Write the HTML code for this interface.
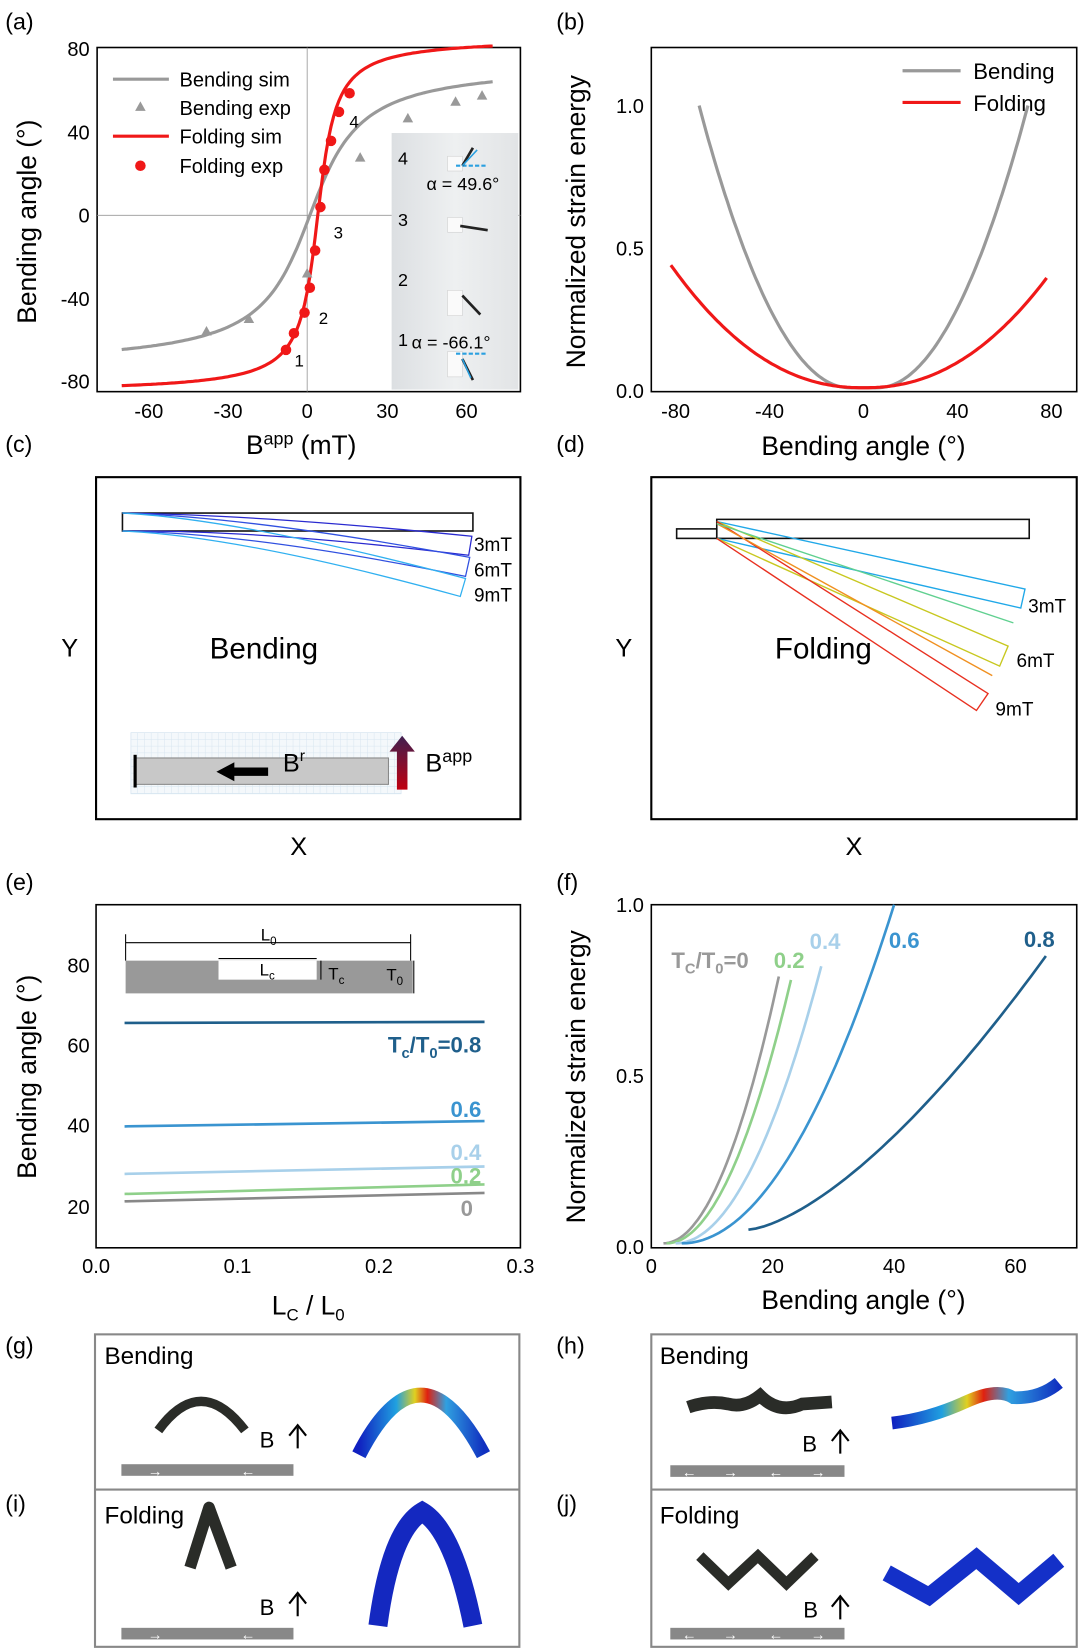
<!DOCTYPE html>
<html><head><meta charset="utf-8"><style>
html,body{margin:0;padding:0;background:#fff;}
svg{display:block;font-family:"Liberation Sans",sans-serif;}
text{font-family:"Liberation Sans",sans-serif;}
</style></head><body>
<svg id="s" width="1082" height="1650" viewBox="0 0 1025 1563" preserveAspectRatio="none" xmlns="http://www.w3.org/2000/svg">
<defs>
<linearGradient id="rb" x1="0" y1="0" x2="1" y2="0"><stop offset="0" stop-color="#1020c0"/><stop offset="0.3" stop-color="#20a0e0"/><stop offset="0.45" stop-color="#e0d020"/><stop offset="0.55" stop-color="#e02010"/><stop offset="0.7" stop-color="#30a0e0"/><stop offset="1" stop-color="#1030c0"/></linearGradient>
<linearGradient id="ba" x1="0" y1="1" x2="0" y2="0"><stop offset="0" stop-color="#c00010"/><stop offset="1" stop-color="#402050"/></linearGradient>
<linearGradient id="ins" x1="0" y1="0" x2="1" y2="0"><stop offset="0" stop-color="#dcdfe2"/><stop offset="0.5" stop-color="#eef0f1"/><stop offset="1" stop-color="#e2e4e6"/></linearGradient>
</defs>
<g font-size="22">
<text x="5" y="28">(a)</text><text x="527" y="28">(b)</text>
<text x="5" y="428">(c)</text><text x="527" y="428">(d)</text>
<text x="5" y="843">(e)</text><text x="527" y="843">(f)</text>
<text x="5" y="1282">(g)</text><text x="527" y="1282">(h)</text>
<text x="5" y="1432">(i)</text><text x="527" y="1432">(j)</text>
</g>
<!-- (a) -->
<rect x="92" y="45" width="401" height="326" fill="none" stroke="#000" stroke-width="1.5"/>
<line x1="92" y1="204" x2="493" y2="204" stroke="#999" stroke-width="0.8"/>
<line x1="291" y1="45" x2="291" y2="371" stroke="#999" stroke-width="0.8"/>
<rect x="371" y="126" width="120" height="243" fill="url(#ins)"/>
<g fill="#fafafa" stroke="#ccc" stroke-width="0.5"><rect x="424" y="148" width="14" height="14"/><rect x="424" y="206" width="14" height="14"/><rect x="424" y="275" width="14" height="24"/><rect x="424" y="333" width="14" height="24"/></g>
<g font-size="17"><text x="377" y="156">4</text><text x="377" y="214">3</text><text x="377" y="271">2</text><text x="377" y="328">1</text>
<text x="404" y="180">α = 49.6°</text><text x="390" y="330">α = -66.1°</text></g>
<line x1="432" y1="157" x2="462" y2="157" stroke="#2aa0e0" stroke-width="2" stroke-dasharray="4,2"/>
<line x1="432" y1="335" x2="462" y2="335" stroke="#2aa0e0" stroke-width="2" stroke-dasharray="4,2"/>
<path d="M438 157 L448 140 M436 214 L462 218 M438 280 L455 298 M438 340 L448 360" stroke="#222" stroke-width="2.5" fill="none"/>
<path d="M438 157 L452 142 M438 340 L446 358" stroke="#2aa0e0" stroke-width="1.5" fill="none"/>
<g font-size="19" text-anchor="middle"><text x="141" y="396">-60</text><text x="216" y="396">-30</text><text x="291" y="396">0</text><text x="367" y="396">30</text><text x="442" y="396">60</text></g>
<g font-size="19" text-anchor="end"><text x="85" y="53">80</text><text x="85" y="132">40</text><text x="85" y="211">0</text><text x="85" y="290">-40</text><text x="85" y="368">-80</text></g>
<text x="233" y="430" font-size="25">B<tspan font-size="17" dy="-9">app</tspan><tspan dy="9"> (mT)</tspan></text>
<text transform="translate(34,210) rotate(-90)" font-size="25" text-anchor="middle">Bending angle (°)</text>
<path id="ag" fill="none" stroke="#999" stroke-width="3"/>
<path id="ar" fill="none" stroke="#f01818" stroke-width="3"/>
<g id="apts"></g>
<g font-size="16"><text x="279" y="347">1</text><text x="302" y="307">2</text><text x="316" y="226">3</text><text x="331" y="121">4</text></g>
<line x1="107" y1="75" x2="160" y2="75" stroke="#999" stroke-width="3"/>
<polygon points="133,96 128,105 138,105" fill="#999"/>
<line x1="107" y1="129" x2="160" y2="129" stroke="#f01818" stroke-width="3"/>
<circle cx="133" cy="157" r="5" fill="#f01818"/>
<g font-size="19"><text x="170" y="82">Bending sim</text><text x="170" y="109">Bending exp</text><text x="170" y="136">Folding sim</text><text x="170" y="164">Folding exp</text></g>
<!-- (b) -->
<rect x="617" y="45" width="403" height="326" fill="none" stroke="#000" stroke-width="1.5"/>
<path id="bg" fill="none" stroke="#999" stroke-width="3"/>
<path id="br" fill="none" stroke="#f01818" stroke-width="3"/>
<line x1="855" y1="67" x2="910" y2="67" stroke="#999" stroke-width="3"/>
<line x1="855" y1="97" x2="910" y2="97" stroke="#f01818" stroke-width="3"/>
<g font-size="21"><text x="922" y="75">Bending</text><text x="922" y="105">Folding</text></g>
<g font-size="19" text-anchor="middle"><text x="640" y="396">-80</text><text x="729" y="396">-40</text><text x="818" y="396">0</text><text x="907" y="396">40</text><text x="996" y="396">80</text></g>
<g font-size="19" text-anchor="end"><text x="610" y="107">1.0</text><text x="610" y="242">0.5</text><text x="610" y="377">0.0</text></g>
<text x="818" y="431" font-size="25" text-anchor="middle">Bending angle (°)</text>
<text transform="translate(554,210) rotate(-90)" font-size="25" text-anchor="middle">Normalized strain energy</text>
<!-- (c) -->
<rect x="91" y="452" width="402" height="324" fill="none" stroke="#000" stroke-width="2"/>
<rect x="116" y="486" width="332" height="17" fill="none" stroke="#111" stroke-width="1.5"/>
<g fill="none" stroke-width="1.2">
<path d="M116 486 Q250 488 447 508 L444 526 Q250 502 116 503" stroke="#2a2ad0"/>
<path d="M116 486 Q240 490 445 528 L441 546 Q240 505 116 503" stroke="#3050e0"/>
<path d="M116 486 Q230 492 441 548 L436 565 Q230 508 116 503" stroke="#30b0f0"/>
</g>
<g font-size="18"><text x="449" y="522">3mT</text><text x="449" y="546">6mT</text><text x="449" y="570">9mT</text></g>
<text x="250" y="624" font-size="28" text-anchor="middle">Bending</text>
<text x="58" y="622" font-size="24">Y</text><text x="275" y="810" font-size="24">X</text>
<g stroke="#cde0ee" stroke-width="0.5"><rect x="124" y="694" width="256" height="58" fill="#f4f8fb"/></g>
<g id="grid" stroke="#d8e6f0" stroke-width="0.5"></g>
<rect x="128" y="718" width="240" height="25" fill="#c8c8c8" stroke="#888"/>
<line x1="128" y1="715" x2="128" y2="746" stroke="#000" stroke-width="3"/>
<polygon points="205,731 222,722 222,727 254,727 254,735 222,735 222,740" fill="#000"/>
<text x="268" y="731" font-size="24">B<tspan font-size="15" dy="-10">r</tspan></text>
<polygon points="381,697 369,712 376,712 376,748 386,748 386,712 393,712" fill="url(#ba)"/>
<text x="403" y="731" font-size="24">B<tspan font-size="17" dy="-9">app</tspan></text>
<!-- (d) -->
<rect x="617" y="452" width="403" height="324" fill="none" stroke="#000" stroke-width="2"/>
<rect x="679" y="492" width="296" height="18" fill="none" stroke="#111" stroke-width="1.5"/>
<rect x="641" y="501" width="38" height="9" fill="none" stroke="#111" stroke-width="1.5"/>
<g fill="none" stroke-width="1.3">
<path d="M679 494 L971 558 L967 576 L679 510" stroke="#20a8e8"/>
<path d="M679 494 L955 612 L947 631 L679 510" stroke="#c8c820"/>
<path d="M679 494 L936 657 L925 673 L679 510" stroke="#e83020"/>
<path d="M679 496 L940 640" stroke="#f09020"/>
<path d="M679 496 L960 590" stroke="#60d090"/>
</g>
<g font-size="18"><text x="974" y="580">3mT</text><text x="963" y="632">6mT</text><text x="943" y="678">9mT</text></g>
<text x="780" y="624" font-size="28" text-anchor="middle">Folding</text>
<text x="583" y="622" font-size="24">Y</text><text x="801" y="810" font-size="24">X</text>
<!-- (e) -->
<rect x="91" y="857" width="402" height="325" fill="none" stroke="#000" stroke-width="1.5"/>
<g font-size="19" text-anchor="middle"><text x="91" y="1206">0.0</text><text x="225" y="1206">0.1</text><text x="359" y="1206">0.2</text><text x="493" y="1206">0.3</text></g>
<g font-size="19" text-anchor="end"><text x="85" y="921">80</text><text x="85" y="997">60</text><text x="85" y="1073">40</text><text x="85" y="1150">20</text></g>
<text x="292" y="1245" font-size="25" text-anchor="middle">L<tspan font-size="16" dy="6">C</tspan><tspan dy="-6"> / L</tspan><tspan font-size="16" dy="6">0</tspan></text>
<text transform="translate(34,1020) rotate(-90)" font-size="25" text-anchor="middle">Bending angle (°)</text>
<rect x="119" y="910" width="272" height="31" fill="#999"/>
<rect x="207" y="910" width="93" height="18" fill="#fff"/>
<path d="M119 893 H389 M207 908 H300 M304 910 V928 M392 910 V941 M119 885 V910 M389 885 V910" stroke="#000" stroke-width="1" fill="none"/>
<g font-size="16"><text x="247" y="891">L<tspan font-size="11" dy="4">0</tspan></text><text x="246" y="924">L<tspan font-size="11" dy="4">c</tspan></text><text x="311" y="928">T<tspan font-size="11" dy="4">c</tspan></text><text x="366" y="929">T<tspan font-size="11" dy="4">0</tspan></text></g>
<g fill="none" stroke-width="2.5">
<line x1="118" y1="969" x2="459" y2="968" stroke="#1f5f8b"/>
<line x1="118" y1="1067" x2="459" y2="1062" stroke="#3a94d0"/>
<line x1="118" y1="1112" x2="459" y2="1105" stroke="#a8d0ea"/>
<line x1="118" y1="1131" x2="459" y2="1122" stroke="#8fd08a"/>
<line x1="118" y1="1138" x2="459" y2="1130" stroke="#888"/>
</g>
<g font-size="21" font-weight="bold" text-anchor="end">
<text x="456" y="997" fill="#1f5f8b">T<tspan font-size="14" dy="5">c</tspan><tspan dy="-5">/T</tspan><tspan font-size="14" dy="5">0</tspan><tspan dy="-5">=0.8</tspan></text>
<text x="456" y="1058" fill="#3a94d0">0.6</text><text x="456" y="1099" fill="#a8d0ea">0.4</text><text x="456" y="1121" fill="#8fd08a">0.2</text><text x="448" y="1152" fill="#999">0</text></g>
<!-- (f) -->
<rect x="617" y="857" width="403" height="325" fill="none" stroke="#000" stroke-width="1.5"/>
<g font-size="19" text-anchor="middle"><text x="617" y="1206">0</text><text x="732" y="1206">20</text><text x="847" y="1206">40</text><text x="962" y="1206">60</text></g>
<g font-size="19" text-anchor="end"><text x="610" y="864">1.0</text><text x="610" y="1026">0.5</text><text x="610" y="1188">0.0</text></g>
<text x="818" y="1240" font-size="25" text-anchor="middle">Bending angle (°)</text>
<text transform="translate(554,1020) rotate(-90)" font-size="25" text-anchor="middle">Normalized strain energy</text>
<g id="fc" fill="none" stroke-width="2.5"></g>
<g font-size="21" font-weight="bold">
<text x="636" y="917" fill="#999">T<tspan font-size="14" dy="5">C</tspan><tspan dy="-5">/T</tspan><tspan font-size="14" dy="5">0</tspan><tspan dy="-5">=0</tspan></text>
<text x="733" y="917" fill="#8fd08a">0.2</text><text x="767" y="899" fill="#a8d0ea">0.4</text><text x="842" y="898" fill="#3a94d0">0.6</text><text x="970" y="897" fill="#1f5f8b">0.8</text></g>
<!-- (g)-(j) -->
<g fill="none" stroke="#888" stroke-width="2">
<rect x="90" y="1264" width="402" height="296"/><line x1="90" y1="1411" x2="492" y2="1411"/>
<rect x="617" y="1264" width="403" height="296"/><line x1="617" y1="1411" x2="1020" y2="1411"/>
</g>
<g font-size="23"><text x="99" y="1292">Bending</text><text x="99" y="1443">Folding</text><text x="625" y="1292">Bending</text><text x="625" y="1443">Folding</text></g>
<g font-size="21"><text x="246" y="1371">B</text><text x="246" y="1530">B</text><text x="760" y="1375">B</text><text x="761" y="1532">B</text></g>
<g stroke="#000" stroke-width="2" fill="none">
<path d="M282 1372 V1352 M274 1360 L282 1350 L290 1360"/>
<path d="M282 1531 V1511 M274 1519 L282 1509 L290 1519"/>
<path d="M796 1377 V1357 M788 1365 L796 1355 L804 1365"/>
<path d="M796 1534 V1514 M788 1522 L796 1512 L804 1522"/>
</g>
<rect x="115" y="1387" width="163" height="11" fill="#888"/>
<rect x="115" y="1542" width="163" height="11" fill="#888"/>
<rect x="635" y="1388" width="165" height="11" fill="#888"/>
<rect x="635" y="1542" width="165" height="11" fill="#888"/>
<g fill="#fff" font-size="14" font-weight="bold"><text x="140" y="1398">→</text><text x="228" y="1398">←</text><text x="140" y="1553">→</text><text x="228" y="1553">←</text>
<text x="646" y="1399">←</text><text x="685" y="1399">→</text><text x="728" y="1399">←</text><text x="768" y="1399">→</text>
<text x="646" y="1553">←</text><text x="685" y="1553">→</text><text x="728" y="1553">←</text><text x="768" y="1553">→</text></g>
<path d="M150 1355 Q190 1300 232 1355" stroke="#2a2c28" stroke-width="9" fill="none"/>
<path d="M180 1485 L198 1428 L219 1485" stroke="#2a2c28" stroke-width="11" fill="none" stroke-linejoin="round"/>
<path d="M652 1333 Q672 1326 690 1330 Q705 1334 720 1322 Q738 1340 760 1330 L788 1328" stroke="#2a2c28" stroke-width="12" fill="none"/>
<path d="M663 1474 L690 1500 L718 1474 L745 1500 L772 1474" stroke="#2a2c28" stroke-width="10" fill="none"/>
<path d="M340 1378 Q398 1265 458 1378" stroke="url(#rb)" stroke-width="14" fill="none"/>
<path d="M358 1540 Q370 1450 400 1432 Q430 1450 448 1540" stroke="#1428c0" stroke-width="18" fill="none"/>
<path d="M845 1348 Q880 1344 915 1328 Q945 1314 960 1324 Q985 1325 1003 1310" stroke="url(#rb)" stroke-width="12" fill="none"/>
<path d="M840 1490 L880 1512 L925 1476 L965 1510 L1003 1478" stroke="#1430c8" stroke-width="16" fill="none"/>
</svg>
<script>
function P(pts){return 'M'+pts.map(p=>p[0].toFixed(1)+' '+p[1].toFixed(1)).join(' L');}
var ax=b=>291+b*2.51, ay=a=>204-a*1.96;
var g=[],r=[];
for(var b=-70;b<=70;b+=1){g.push([ax(b),ay(2/Math.PI*74*Math.atan((b-1)/14))]);r.push([ax(b),ay(2/Math.PI*86*Math.atan((b-4)/5))]);}
document.getElementById('ag').setAttribute('d',P(g));
document.getElementById('ar').setAttribute('d',P(r));
var h='';
[[-38,-56],[-22,-50],[0,-28],[20,28],[38,47],[56,55],[66,58]].forEach(p=>{var x=ax(p[0]),y=ay(p[1]);h+='<polygon points="'+x+','+(y-5)+' '+(x-5)+','+(y+4)+' '+(x+5)+','+(y+4)+'" fill="#999"/>';});
[[-8,-65],[-5,-57],[-1,-47],[1,-35],[3,-17],[5,4],[6.5,22],[9,36],[12,50],[16,59]].forEach(p=>{h+='<circle cx="'+ax(p[0])+'" cy="'+ay(p[1])+'" r="5" fill="#f01818"/>';});
document.getElementById('apts').innerHTML=h;
var bx=a=>818+a*2.225, by=e=>370-e*270;
var bg=[],br=[];
for(var a=-70;a<=70;a+=1){var t=Math.max(Math.abs(a)-6,0)/64;bg.push([bx(a),by(t*t*0.99+0.01)]);}
for(var a=-82;a<=78;a+=1){br.push([bx(a),by(0.43*Math.pow(Math.abs(a)/82,2.2)+0.01)]);}
document.getElementById('bg').setAttribute('d',P(bg));
document.getElementById('br').setAttribute('d',P(br));
var fx=a=>617+a*5.75, fy=e=>1181-e*324;
var cs=[[2,21,0.79,'#999'],[2.5,23,0.78,'#8fd08a'],[4,28,0.82,'#a8d0ea'],[5,40,1.0,'#3a94d0'],[16,65,0.85,'#1f5f8b']];
var fh='';
cs.forEach(c=>{var pts=[];for(var i=0;i<=40;i++){var a=c[0]+(c[1]-c[0])*i/40;var u=i/40;pts.push([fx(a),fy(c[0]>10?0.05+(c[2]-0.05)*Math.pow(u,1.5):0.01+(c[2]-0.01)*Math.pow(u,2))]);}fh+='<path d="'+P(pts)+'" stroke="'+c[3]+'"/>';});
document.getElementById('fc').innerHTML=fh;
var gr='';for(var x=124;x<=380;x+=6.4)gr+='<line x1="'+x+'" y1="694" x2="'+x+'" y2="752"/>';for(var y=694;y<=752;y+=6.4)gr+='<line x1="124" y1="'+y+'" x2="380" y2="'+y+'"/>';
document.getElementById('grid').innerHTML=gr;
</script>
</body></html>
